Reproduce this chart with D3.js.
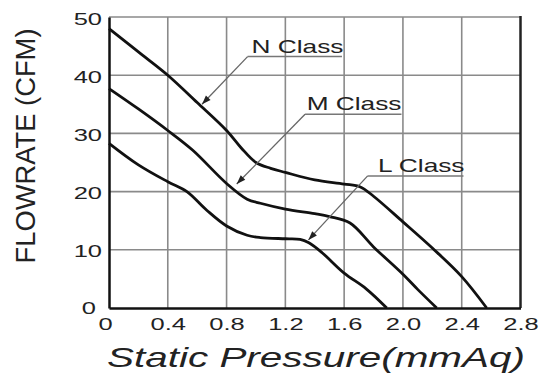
<!DOCTYPE html>
<html><head><meta charset="utf-8">
<script src="https://cdn.jsdelivr.net/npm/d3@7"></script>
<style>
html,body{margin:0;padding:0;background:#fff;}
text{font-family:"Liberation Sans",Arial,sans-serif;fill:#222;}
</style></head>
<body><svg id="c" width="543" height="374"></svg>
<script>
// ---- data ----
const xTicks = [0, 0.4, 0.8, 1.2, 1.6, 2.0, 2.4, 2.8];
const xTickLabels = ["0", "0.4", "0.8", "1.2", "1.6", "2.0", "2.4", "2.8"];
const yTicks = [0, 10, 20, 30, 40, 50];
const seriesNames = ["N Class", "M Class", "L Class"];
const nPressure = [0, 0.2, 0.4, 0.6, 0.8, 0.9, 1.0, 1.1, 1.2, 1.4, 1.6, 1.71, 1.8, 2.0, 2.2, 2.4, 2.57];
const nFlow     = [48, 44, 40, 35.3, 30.5, 27.5, 25, 24, 23.3, 22.0, 21.3, 20.8, 19.2, 14.8, 10.3, 5.4, 0];
const mPressure = [0, 0.2, 0.4, 0.57, 0.8, 0.94, 1.03, 1.2, 1.4, 1.5, 1.64, 1.8, 2.0, 2.1, 2.23];
const mFlow     = [37.7, 34.2, 30.5, 27.1, 21.4, 18.7, 18.0, 17.0, 16.2, 15.7, 14.6, 10.5, 5.8, 3.2, 0];
const lPressure = [0, 0.2, 0.4, 0.53, 0.665, 0.8, 0.94, 1.03, 1.2, 1.3, 1.36, 1.45, 1.6, 1.75, 1.89];
const lFlow     = [28.3, 24.6, 21.7, 20.0, 16.8, 14.1, 12.5, 12.1, 11.9, 11.8, 11.2, 9.5, 6.0, 3.3, 0];
const xTitle = "Static  Pressure(mmAq)";
const yTitle = "FLOWRATE (CFM)";

// ---- layout ----
const L = 109, R = 520.5, T = 17, B = 308;
const svg = d3.select("#c");
const x = d3.scaleLinear().domain([0, 2.8]).range([L, R]);
const y = d3.scaleLinear().domain([0, 50]).range([B, T]);
const grid = "#8a8a8a";

// grid
svg.append("g").selectAll("line").data(xTicks.slice(1, -1)).join("line")
  .attr("x1", d => x(d)).attr("x2", d => x(d)).attr("y1", T).attr("y2", B)
  .attr("stroke", grid).attr("stroke-width", 1.6);
svg.append("g").selectAll("line").data(yTicks.slice(1)).join("line")
  .attr("x1", L).attr("x2", R).attr("y1", d => y(d)).attr("y2", d => y(d))
  .attr("stroke", grid).attr("stroke-width", 1.6);
// right border
svg.append("line").attr("x1", R).attr("x2", R).attr("y1", T - 1).attr("y2", B)
  .attr("stroke", "#222").attr("stroke-width", 2.5);

// axes
const sx = 1.5, fs = 17;
const gx = svg.append("g").attr("transform", `translate(0,${B})`)
  .call(d3.axisBottom(x).tickValues(xTicks).tickFormat((d, i) => xTickLabels[i]).tickSize(0).tickPadding(0));
gx.select(".domain").attr("stroke", "#111").attr("stroke-width", 2.5);
gx.selectAll("text").attr("y", 0).attr("dy", 0).attr("x", 0)
  .attr("font-size", fs).attr("fill", "#222")
  .attr("transform", d => `translate(${d === 0 ? -4 : 0},21.5) scale(${sx},1)`);

const gy = svg.append("g").attr("transform", `translate(${L},0)`)
  .call(d3.axisLeft(y).tickValues(yTicks).tickSize(0).tickPadding(0));
gy.select(".domain").attr("stroke", "#111").attr("stroke-width", 2.5);
gy.selectAll("text").attr("x", 0).attr("dy", "0.36em")
  .attr("font-size", fs).attr("fill", "#222")
  .attr("transform", d => `translate(${d === 0 ? -13 : -7},${d === 0 ? -1 : 1}) scale(${sx},1)`);

// curves
const line = d3.line().x(d => x(d[0])).y(d => y(d[1])).curve(d3.curveCatmullRom.alpha(0.5));
const series = [
  d3.zip(nPressure, nFlow),
  d3.zip(mPressure, mFlow),
  d3.zip(lPressure, lFlow)
];
svg.append("g").selectAll("path").data(series).join("path")
  .attr("d", line).attr("fill", "none").attr("stroke", "#111")
  .attr("stroke-width", 2.8).attr("stroke-linejoin", "round");

// annotations (positions in data units)
const ann = [
  {tx: 0.97, ty: 43.8, u0: 0.943, u1: 1.585, uy: 43.2, ax: 0.633, ay: 35.0},
  {tx: 1.345, ty: 34.0, u0: 1.334, u1: 1.99, uy: 33.3, ax: 0.869, ay: 21.3},
  {tx: 1.83, ty: 23.3, u0: 1.76, u1: 2.412, uy: 22.7, ax: 1.357, ay: 11.7}
];
const ag = svg.append("g");
ann.forEach((a, i) => {
  const x0 = x(a.u0), y0 = y(a.uy), x1 = x(a.ax), y1 = y(a.ay);
  ag.append("line").attr("x1", x0).attr("x2", x(a.u1)).attr("y1", y0).attr("y2", y0)
    .attr("stroke", "#777").attr("stroke-width", 1.5);
  ag.append("line").attr("x1", x0).attr("y1", y0).attr("x2", x1).attr("y2", y1)
    .attr("stroke", "#666").attr("stroke-width", 1.3);
  const ang = Math.atan2(y1 - y0, x1 - x0) * 180 / Math.PI;
  ag.append("path").attr("d", "M0,0 L-9,-3.2 L-9,3.2 Z").attr("fill", "#222")
    .attr("transform", `translate(${x1},${y1}) rotate(${ang})`);
  ag.append("text").text(seriesNames[i]).attr("font-size", 17.5)
    .attr("transform", `translate(${x(a.tx)},${y(a.ty)}) scale(1.5,1)`);
});

// titles
svg.append("text").text(xTitle).attr("x", 107).attr("y", 367)
  .attr("font-size", 28).attr("font-style", "italic")
  .attr("textLength", 418).attr("lengthAdjust", "spacingAndGlyphs");
svg.append("text").text(yTitle).attr("font-size", 27).attr("text-anchor", "middle")
  .attr("transform", "translate(35,146) rotate(-90)")
  .attr("textLength", 235).attr("lengthAdjust", "spacingAndGlyphs");
</script></body></html>
